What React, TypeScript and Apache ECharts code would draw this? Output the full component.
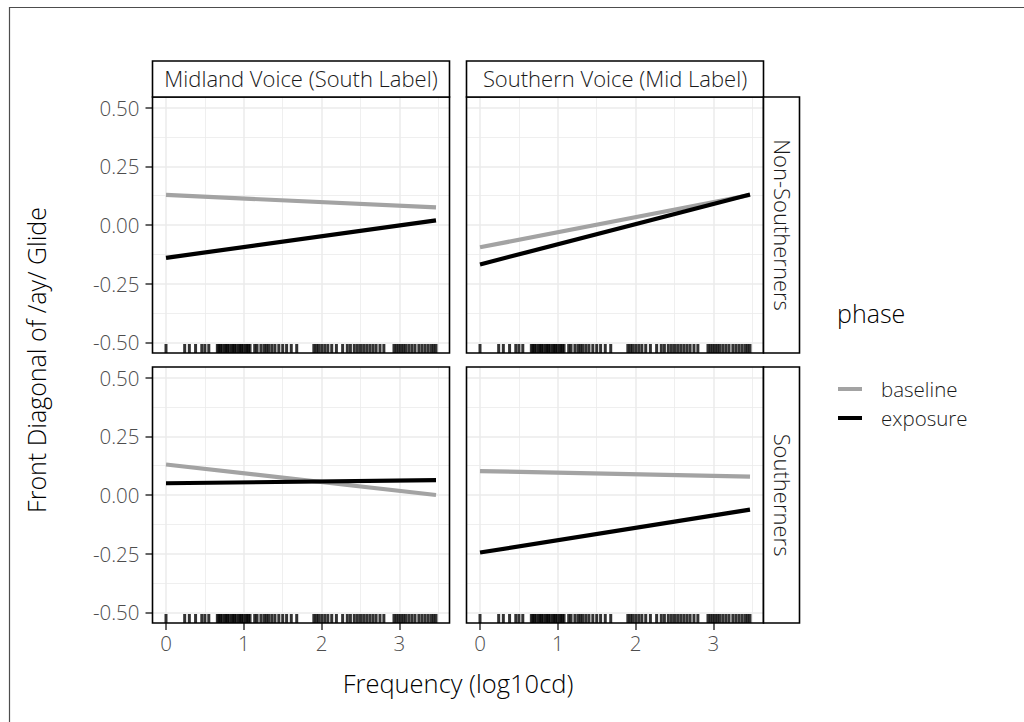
import React, { useEffect, useRef } from "react";
import * as echarts from "echarts";

const colFacets = ["Midland Voice (South Label)", "Southern Voice (Mid Label)"];
const rowFacets = ["Non-Southerners", "Southerners"];
const phases = ["baseline", "exposure"];
const phaseColors = ["#A3A3A3", "#000000"];

const fitX = [0, 3.47];
// fitted endpoints per panel: TL, TR, BL, BR
const baselineTL = [0.128, 0.075];
const exposureTL = [-0.14, 0.02];
const baselineTR = [-0.095, 0.128];
const exposureTR = [-0.168, 0.13];
const baselineBL = [0.13, 0.0];
const exposureBL = [0.05, 0.063];
const baselineBR = [0.102, 0.078];
const exposureBR = [-0.245, -0.062];

const rugFreq = [
  0.0, 0.24, 0.3, 0.38, 0.46, 0.5, 0.55, 0.66, 0.68, 0.7, 0.72, 0.75, 0.77,
  0.79, 0.81, 0.84, 0.86, 0.88, 0.9, 0.93, 0.95, 0.97, 0.99, 1.02, 1.04, 1.06,
  1.08, 1.14, 1.17, 1.22, 1.26, 1.29, 1.32, 1.36, 1.4, 1.45, 1.5, 1.55, 1.61,
  1.68, 1.9, 1.93, 1.96, 2.0, 2.04, 2.08, 2.13, 2.19, 2.27, 2.33, 2.37, 2.42,
  2.46, 2.5, 2.54, 2.58, 2.62, 2.66, 2.7, 2.75, 2.8, 2.93, 2.96, 2.99, 3.02,
  3.05, 3.08, 3.12, 3.16, 3.2, 3.25, 3.29, 3.33, 3.37, 3.41, 3.44, 3.47,
];

const xTicks = [0, 1, 2, 3];
const xMinor = [0.5, 1.5, 2.5, 3.5];
const yTicks = [-0.5, -0.25, 0, 0.25, 0.5];
const yMinor = [-0.375, -0.125, 0.125, 0.375];

const X_MIN = -0.1735;
const X_MAX = 3.6435;
const Y_MIN = -0.545;
const Y_MAX = 0.545;

const FONT = "'Open Sans'";

export default function App() {
  const ref = useRef<HTMLDivElement>(null);
  useEffect(() => {
    if (!ref.current) return;
    const chart = echarts.init(ref.current, null, { renderer: "svg" });

    const panelW = 297;
    const panelH = 256;
    const lefts = [152.5, 466.5];
    const tops = [97, 367];
    const panels = [
      { r: 0, c: 0, b: baselineTL, e: exposureTL },
      { r: 0, c: 1, b: baselineTR, e: exposureTR },
      { r: 1, c: 0, b: baselineBL, e: exposureBL },
      { r: 1, c: 1, b: baselineBR, e: exposureBR },
    ];

    const grids: any[] = [];
    const xAxes: any[] = [];
    const yAxes: any[] = [];
    const series: any[] = [];
    const graphics: any[] = [];

    panels.forEach((p) => {
      grids.push({
        left: lefts[p.c],
        top: tops[p.r],
        width: panelW,
        height: panelH,
        containLabel: false,
      });
    });

    panels.forEach((p, i) => {
      xAxes.push({
        type: "value",
        gridIndex: i,
        min: X_MIN,
        max: X_MAX,
        position: "bottom",
        axisLine: { show: false, onZero: false },
        axisTick: {
          show: p.r === 1,
          length: 7,
          customValues: xTicks,
          lineStyle: { color: "#333333", width: 1.5 },
        },
        axisLabel: {
          show: p.r === 1,
          customValues: xTicks,
          color: "#4D4D4D",
          fontSize: 20.5,
          fontFamily: FONT,
          fontWeight: 300,
          margin: 9,
          formatter: (v: number) => String(v),
        },
        splitLine: { show: true, lineStyle: { color: "#EBEBEB", width: 1.5 } },
      });
      yAxes.push({
        type: "value",
        gridIndex: i,
        min: Y_MIN,
        max: Y_MAX,
        position: "left",
        axisLine: { show: false, onZero: false },
        axisTick: {
          show: p.c === 0,
          length: 7,
          customValues: yTicks,
          lineStyle: { color: "#333333", width: 1.5 },
        },
        axisLabel: {
          show: p.c === 0,
          customValues: yTicks,
          color: "#4D4D4D",
          fontSize: 20.5,
          fontFamily: FONT,
          fontWeight: 300,
          margin: 13,
          formatter: (v: number) => v.toFixed(2),
        },
        splitLine: { show: true, lineStyle: { color: "#EBEBEB", width: 1.5 } },
      });
    });
    panels.forEach((p, i) => {
      xAxes.push({
        type: "value",
        gridIndex: i,
        min: X_MIN,
        max: X_MAX,
        position: "top",
        axisLine: { show: false, onZero: false },
        axisTick: { show: false, customValues: xMinor },
        axisLabel: { show: false, customValues: xMinor },
        splitLine: { show: true, lineStyle: { color: "#EBEBEB", width: 0.8 } },
      });
      yAxes.push({
        type: "value",
        gridIndex: i,
        min: Y_MIN,
        max: Y_MAX,
        position: "right",
        axisLine: { show: false, onZero: false },
        axisTick: { show: false, customValues: yMinor },
        axisLabel: { show: false, customValues: yMinor },
        splitLine: { show: true, lineStyle: { color: "#EBEBEB", width: 0.8 } },
      });
    });

    panels.forEach((p, i) => {
      [p.b, p.e].forEach((vals, k) => {
        series.push({
          type: "line",
          name: phases[k],
          xAxisIndex: i,
          yAxisIndex: i,
          data: fitX.map((x, j) => [x, vals[j]]),
          symbol: "none",
          showSymbol: false,
          color: phaseColors[k],
          lineStyle: { color: phaseColors[k], width: 4.2, cap: "butt" },
          z: 3 + k,
          silent: true,
        });
      });
      series.push({
        type: "scatter",
        name: "rug",
        xAxisIndex: i,
        yAxisIndex: i,
        data: rugFreq.map((x) => [x, Y_MIN]),
        symbol: "rect",
        symbolSize: [3, 9],
        symbolOffset: [0, -4.5],
        itemStyle: { color: "#000000" },
        clip: false,
        z: 6,
        silent: true,
      });
    });

    panels.forEach((p) => {
      graphics.push({
        type: "rect",
        shape: { x: lefts[p.c], y: tops[p.r], width: panelW, height: panelH },
        style: { fill: "none", stroke: "#000000", lineWidth: 1.6 },
        z: 100,
        silent: true,
      });
    });
    colFacets.forEach((label, c) => {
      graphics.push({
        type: "rect",
        shape: { x: lefts[c], y: 61, width: panelW, height: 36 },
        style: { fill: "#FFFFFF", stroke: "#000000", lineWidth: 1.6 },
        z: 100,
        silent: true,
      });
      graphics.push({
        type: "text",
        x: lefts[c] + panelW / 2,
        y: 78,
        style: {
          text: label,
          fill: "#1A1A1A",
          font: `300 22px ${FONT}`,
          align: "center",
          verticalAlign: "middle",
        },
        z: 101,
        silent: true,
      });
    });
    rowFacets.forEach((label, r) => {
      graphics.push({
        type: "rect",
        shape: { x: 763.5, y: tops[r], width: 36, height: panelH },
        style: { fill: "#FFFFFF", stroke: "#000000", lineWidth: 1.6 },
        z: 100,
        silent: true,
      });
      graphics.push({
        type: "text",
        x: 782.5,
        y: tops[r] + panelH / 2,
        rotation: -Math.PI / 2,
        style: {
          text: label,
          fill: "#1A1A1A",
          font: `300 22px ${FONT}`,
          align: "center",
          verticalAlign: "middle",
        },
        z: 101,
        silent: true,
      });
    });
    graphics.push({
      type: "text",
      x: 458,
      y: 683,
      style: {
        text: "Frequency (log10cd)",
        fill: "#000000",
        font: `300 25.5px ${FONT}`,
        align: "center",
        verticalAlign: "middle",
      },
      silent: true,
    });
    graphics.push({
      type: "text",
      x: 36,
      y: 360,
      rotation: Math.PI / 2,
      style: {
        text: "Front Diagonal of /ay/ Glide",
        fill: "#000000",
        font: `300 25px ${FONT}`,
        align: "center",
        verticalAlign: "middle",
      },
      silent: true,
    });
    graphics.push({
      type: "text",
      x: 837,
      y: 313,
      style: {
        text: "phase",
        fill: "#000000",
        font: `300 25px ${FONT}`,
        align: "left",
        verticalAlign: "middle",
      },
      silent: true,
    });
    graphics.push({
      type: "rect",
      shape: { x: 9.5, y: 7.5, width: 1200, height: 900 },
      style: { fill: "none", stroke: "#4D4D4D", lineWidth: 1.2 },
      silent: true,
      z: 0,
    });

    chart.setOption({
      animation: false,
      backgroundColor: "#FFFFFF",
      grid: grids,
      xAxis: xAxes,
      yAxis: yAxes,
      series,
      legend: {
        data: phases.map((n) => ({ name: n, icon: "rect" })),
        orient: "vertical",
        left: 838,
        top: 377,
        padding: 0,
        itemWidth: 24,
        itemHeight: 4,
        itemGap: 5,
        selectedMode: false,
        textStyle: {
          fontSize: 20.5,
          fontFamily: FONT,
          fontWeight: 300,
          color: "#1A1A1A",
          lineHeight: 24,
          padding: [0, 0, 0, 14],
        },
      },
      graphic: graphics,
    });

    return () => chart.dispose();
  }, []);

  return (
    <div
      ref={ref}
      style={{ position: "fixed", left: 0, top: 0, width: 1024, height: 722 }}
    />
  );
}
